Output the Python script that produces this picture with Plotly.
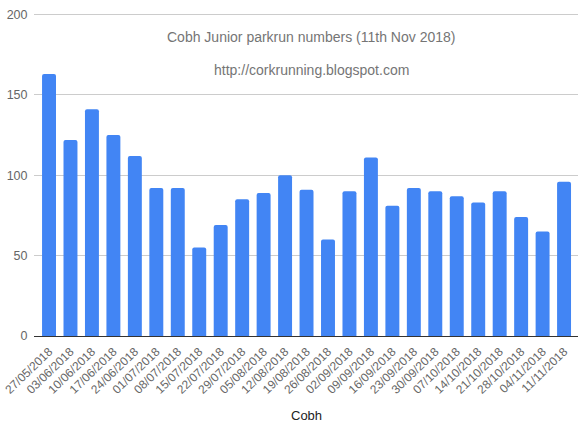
import plotly.graph_objects as go

dates = ["27/05/2018", "03/06/2018", "10/06/2018", "17/06/2018", "24/06/2018",
         "01/07/2018", "08/07/2018", "15/07/2018", "22/07/2018", "29/07/2018",
         "05/08/2018", "12/08/2018", "19/08/2018", "26/08/2018", "02/09/2018",
         "09/09/2018", "16/09/2018", "23/09/2018", "30/09/2018", "07/10/2018",
         "14/10/2018", "21/10/2018", "28/10/2018", "04/11/2018", "11/11/2018"]
runners = [163, 122, 141, 125, 112, 92, 92, 55, 69, 85, 89, 100, 91, 60, 90,
           111, 81, 92, 90, 87, 83, 90, 74, 65, 96]
y_ticks = [0, 50, 100, 150, 200]

title_text = "Cobh Junior parkrun numbers (11th Nov 2018)"
subtitle_text = "http://corkrunning.blogspot.com"
x_title = "Cobh"

FONT = "Liberation Sans, Arial, sans-serif"
GRAY = "#757575"

fig = go.Figure(go.Bar(
    x=dates, y=runners, marker_color="#4285F4", marker_line_width=0,
    hoverinfo="x+y",
))

fig.update_layout(
    width=587, height=433,
    margin=dict(l=34, r=9, t=10, b=97),
    plot_bgcolor="white", paper_bgcolor="white",
    bargap=0.35, barcornerradius=2,
    font=dict(family=FONT, color=GRAY, size=12),
    showlegend=False,
    annotations=[
        dict(text=title_text, x=0.510, y=(336 - 37) / 326, xref="paper", yref="paper",
             xanchor="center", yanchor="middle", showarrow=False,
             font=dict(family=FONT, size=14, color=GRAY)),
        dict(text=subtitle_text, x=0.510, y=(336 - 70) / 326, xref="paper", yref="paper",
             xanchor="center", yanchor="middle", showarrow=False,
             font=dict(family=FONT, size=14, color=GRAY)),
        dict(text=x_title, x=0.5, y=-(415 - 336) / 326, xref="paper", yref="paper",
             xanchor="center", yanchor="middle", showarrow=False,
             font=dict(family=FONT, size=13, color="#222222")),
    ],
)

fig.update_xaxes(
    type="category", range=[-0.70, 24.65], tickangle=-44,
    tickfont=dict(size=12, color="#666666"),
    showgrid=False, showline=False,
    ticks="outside", ticklen=3, tickcolor="rgba(0,0,0,0)", automargin=False,
)
fig.update_yaxes(
    range=[0, 202.8], tickvals=y_ticks, showgrid=True, gridcolor="#cccccc",
    gridwidth=1, zeroline=True, zerolinecolor="#333333", zerolinewidth=1,
    tickfont=dict(size=12.5, color="#666666"), ticks="outside", ticklen=3,
    tickcolor="rgba(0,0,0,0)", automargin=False, fixedrange=True,
)

fig.write_html("out.html", config={"displayModeBar": False},
               post_script="document.body.style.margin='0';")
